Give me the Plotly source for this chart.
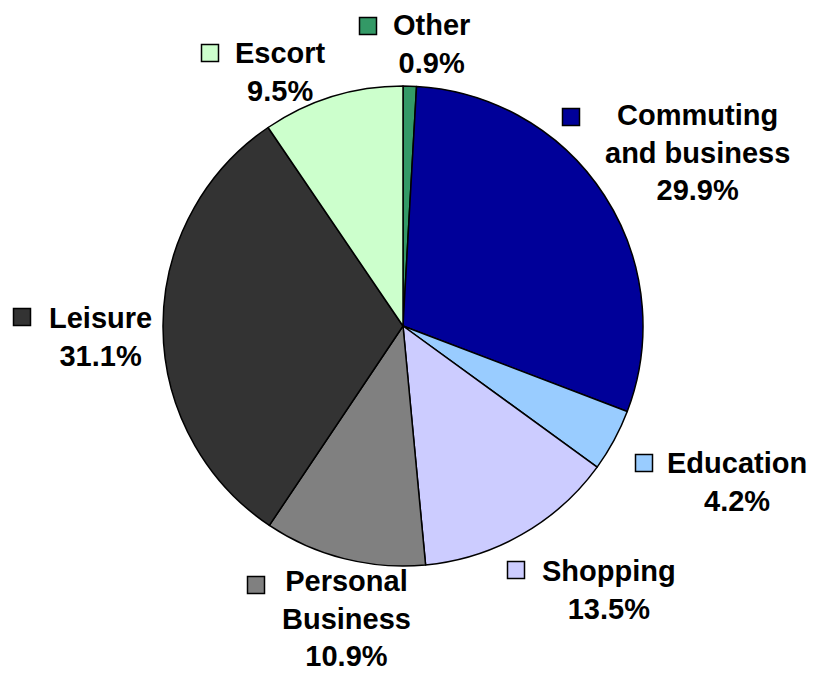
import plotly.graph_objects as go

labels = ["Other", "Commuting and business", "Education", "Shopping",
          "Personal Business", "Leisure", "Escort"]
values = [0.9, 29.9, 4.2, 13.5, 10.9, 31.1, 9.5]
colors = ["#339966", "#000099", "#99CCFF", "#CCCCFF", "#808080", "#333333", "#CCFFCC"]
label_text = ["Other", "Commuting<br>and business", "Education", "Shopping",
              "Personal<br>Business", "Leisure", "Escort"]

W, H = 816, 675
OFF = 8  # page body margin


def px(x):
    return (x - OFF) / W


def py(y):
    return 1 - (y - OFF) / H


fig = go.Figure(go.Pie(
    labels=labels, values=values, sort=False, direction="clockwise", rotation=0,
    marker=dict(colors=colors, line=dict(color="black", width=1.5)),
    textinfo="none", hoverinfo="label+percent", showlegend=False,
    domain=dict(x=[px(163), px(643)], y=[py(568), py(84)]),
))

# label block centres (px) and key-square centres (px)
label_pos = [(431, 44), (697, 153), (737, 482), (609, 590), (346, 618), (100, 337), (280, 72)]
key_pos = [(368, 26), (571, 117), (644, 463), (516, 570), (256, 585), (22, 317), (210, 53)]

annotations = []
shapes = []
for lab, val, col, (lx, ly), (kx, ky) in zip(label_text, values, colors, label_pos, key_pos):
    annotations.append(dict(
        x=px(lx), y=py(ly), xref="paper", yref="paper",
        text=f"<b>{lab}<br>{val:.1f}%</b>", showarrow=False,
        xanchor="center", yanchor="middle", align="center",
        font=dict(family="Liberation Sans, Arial", size=29, color="black"),
    ))
    s = 8.5
    shapes.append(dict(
        type="rect", xref="paper", yref="paper",
        x0=px(kx - s), x1=px(kx + s), y0=py(ky + s), y1=py(ky - s),
        fillcolor=col, line=dict(color="black", width=1.5),
    ))

fig.update_layout(
    width=W, height=H, margin=dict(l=0, r=0, t=0, b=0),
    paper_bgcolor="white", plot_bgcolor="white",
    annotations=annotations, shapes=shapes,
)

fig.write_html("out.html")
